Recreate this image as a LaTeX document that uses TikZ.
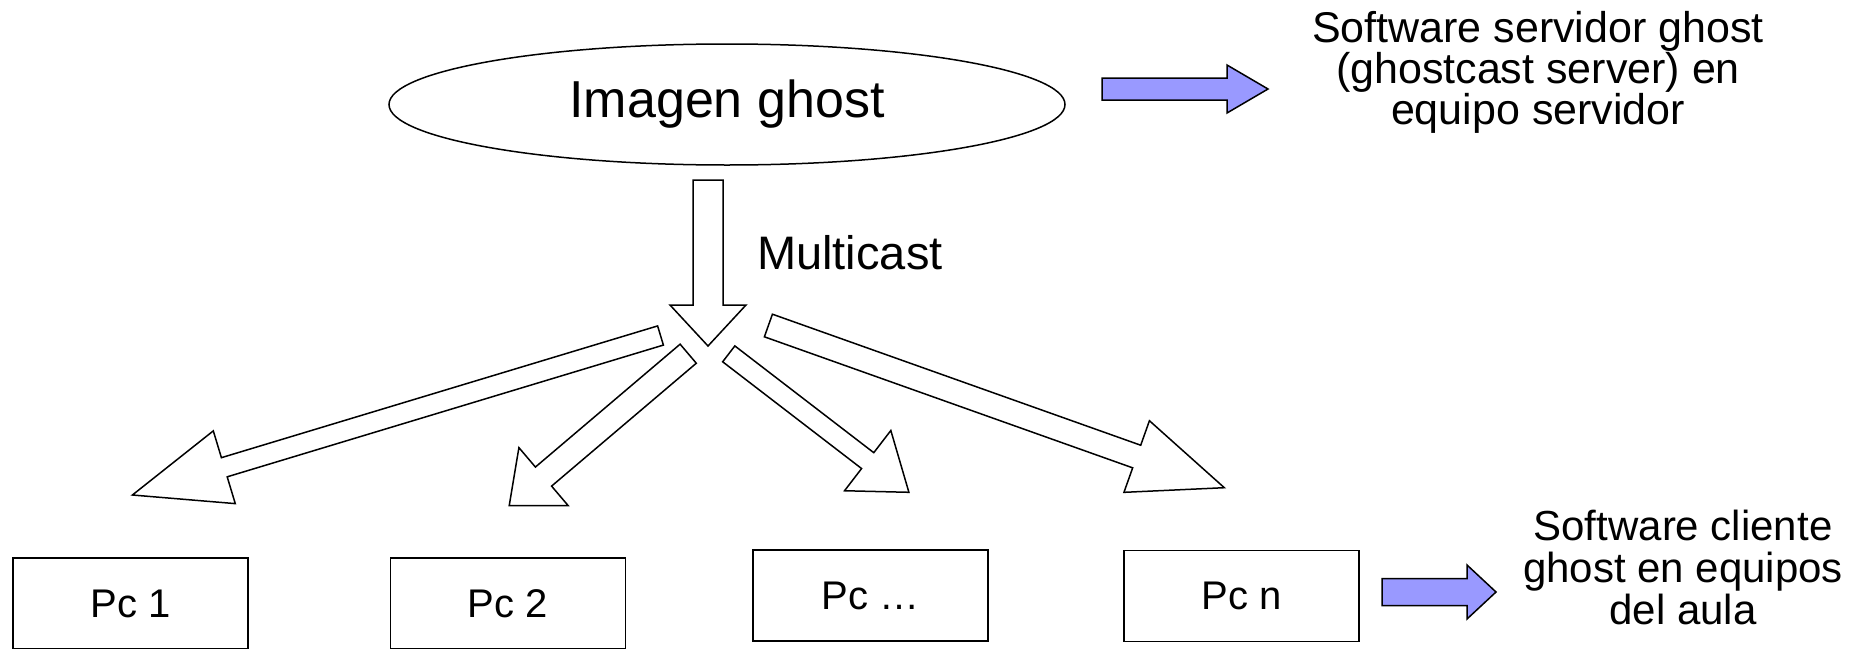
\documentclass[tikz,border=0pt]{standalone}
\usepackage{fontspec}
\setmainfont{Liberation Sans}
\usetikzlibrary{calc,shapes.geometric}
\definecolor{arrowblue}{HTML}{9999FF}
\newcommand{\blockarrow}[6]{%
  \coordinate (ba-h) at ($(#3)!#6!(#2)$);
  \draw[#1] ($(#2)!#4!90:(#3)$) -- ($(ba-h)!#4!90:(#3)$) -- ($(ba-h)!#5!90:(#3)$) -- (#3)
     -- ($(ba-h)!#5!270:(#3)$) -- ($(ba-h)!#4!270:(#3)$) -- ($(#2)!#4!270:(#3)$) -- cycle;
}
\begin{document}
\begin{tikzpicture}[x=1pt,y=-1pt,
  outline/.style={draw=black, fill=white, line width=1.5pt, line join=miter},
  bluearrow/.style={draw=black, fill=arrowblue, line width=1.5pt, line join=miter},
  pcbox/.style={draw, line width=1.5pt, minimum width=235pt, minimum height=91pt, inner sep=0pt,
     font=\fontsize{40}{48}\selectfont},
  label/.style={inner sep=0pt}]
\useasboundingbox (0,0) rectangle (1868,648);

% main ellipse
\node[ellipse, draw, line width=1.5pt, minimum width=676pt, minimum height=121pt, inner sep=0pt,
      font=\fontsize{52}{60}\selectfont] (img) at (727,104.5) {Imagen ghost};

% server description
\node[label, align=center, font=\fontsize{43}{38}\selectfont] (srv) at (1538,72)
  {Software servidor ghost\\(ghostcast server) en\\equipo servidor};
\coordinate (srvT) at (1102,89);
\coordinate (srvH) at (1268,89);
\blockarrow{bluearrow}{srvT}{srvH}{11pt}{24pt}{41pt}

% multicast arrow
\coordinate (mcT) at (708,180);
\coordinate (mcH) at (708,346);
\blockarrow{outline}{mcT}{mcH}{15pt}{38pt}{41pt}
\node[label, anchor=base west, font=\fontsize{47}{56}\selectfont] (mc) at (757,269) {Multicast};

% PCs
\node[pcbox] (pc1) at (130.5,603.5) {Pc 1};
\node[pcbox] (pc2) at (508,603.5) {Pc 2};
\node[pcbox] (pcx) at (870.5,595.5) {Pc …};
\node[pcbox] (pcn) at (1241.5,596) {Pc n};

% distribution arrows
\coordinate (a1t) at (660.5,335.5);
\coordinate (a1h) at (132.4,495);
\blockarrow{outline}{a1t}{a1h}{10pt}{38pt}{96pt}
\coordinate (a2t) at (688.2,353.7);
\coordinate (a2h) at (509.2,505.7);
\blockarrow{outline}{a2t}{a2h}{12.5pt}{38pt}{45pt}
\coordinate (a3t) at (728.75,353.85);
\coordinate (a3h) at (908.9,492.3);
\blockarrow{outline}{a3t}{a3h}{10pt}{38pt}{52pt}
\coordinate (a4t) at (768.4,325.5);
\coordinate (a4h) at (1224.3,487.7);
\blockarrow{outline}{a4t}{a4h}{12pt}{38pt}{93pt}

% client description
\coordinate (cliT) at (1382,592);
\coordinate (cliH) at (1496,592);
\blockarrow{bluearrow}{cliT}{cliH}{13.5pt}{27pt}{29pt}
\node[label, align=center, font=\fontsize{42}{42}\selectfont] (cli) at (1683,567)
  {Software cliente\\ghost en equipos\\del aula};
\end{tikzpicture}
\end{document}
